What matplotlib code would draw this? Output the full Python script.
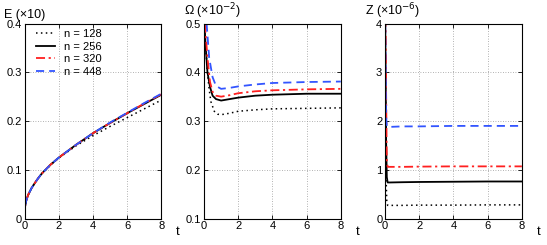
import matplotlib
matplotlib.use('Agg')
import matplotlib.pyplot as plt

plt.rcParams['font.family'] = ['Liberation Sans', 'DejaVu Sans']
plt.rcParams['font.size'] = 7.5

labels = ['n = 128', 'n = 256', 'n = 320', 'n = 448']

# energy E (x10)
tE = [0, 0.01, 0.05, 0.1, 0.2, 0.4, 0.6, 0.8, 1, 1.5, 2, 3, 4, 5, 6, 7, 8]
E128 = [0, 0.02, 0.03, 0.037, 0.048, 0.062, 0.073, 0.083, 0.092, 0.109, 0.124, 0.149, 0.170, 0.189, 0.207, 0.225, 0.243]
E256 = [0, 0.02, 0.03, 0.037, 0.048, 0.062, 0.073, 0.083, 0.092, 0.110, 0.125, 0.151, 0.175, 0.196, 0.216, 0.235, 0.254]
E320 = [0, 0.02, 0.03, 0.037, 0.048, 0.062, 0.073, 0.083, 0.092, 0.110, 0.125, 0.151, 0.175, 0.196, 0.216, 0.236, 0.255]
E448 = [0, 0.02, 0.03, 0.037, 0.048, 0.062, 0.073, 0.083, 0.092, 0.110, 0.125, 0.151, 0.175, 0.197, 0.217, 0.237, 0.256]

# enstrophy Omega (x10^-2)
tW128 = [0.03, 0.1, 0.2, 0.3, 0.4, 0.6, 0.8, 1.0, 1.5, 2, 3, 4, 6, 8]
W128 = [0.5, 0.45, 0.40, 0.365, 0.34, 0.32, 0.314, 0.313, 0.316, 0.320, 0.323, 0.325, 0.326, 0.327]
tW256 = [0.02, 0.1, 0.2, 0.35, 0.5, 0.7, 1.0, 1.5, 2, 3, 4, 6, 8]
W256 = [0.5, 0.45, 0.40, 0.37, 0.352, 0.345, 0.342, 0.345, 0.348, 0.352, 0.354, 0.356, 0.356]
tW320 = [0.05, 0.2, 0.35, 0.5, 0.7, 1.0, 1.5, 2, 3, 4, 6, 8]
W320 = [0.5, 0.43, 0.38, 0.36, 0.352, 0.350, 0.353, 0.357, 0.361, 0.363, 0.365, 0.366]
tW448 = [0.15, 0.3, 0.5, 0.7, 1.0, 1.5, 2, 3, 4, 6, 8]
W448 = [0.5, 0.43, 0.39, 0.372, 0.366, 0.368, 0.371, 0.375, 0.378, 0.380, 0.381]

# Z (x10^-6)
tZ = [0, 0.03, 0.06, 0.1, 0.15, 0.3, 1, 2, 4, 6, 8]
Z128 = [4.5, 2.0, 0.8, 0.35, 0.27, 0.27, 0.27, 0.275, 0.275, 0.28, 0.28]
Z256 = [4.5, 3.0, 1.6, 0.85, 0.74, 0.74, 0.745, 0.75, 0.755, 0.76, 0.76]
Z320 = [4.5, 4.0, 2.6, 1.2, 1.06, 1.06, 1.06, 1.065, 1.07, 1.07, 1.07]
Z448 = [4.5, 3.0, 2.1, 1.90, 1.88, 1.88, 1.89, 1.89, 1.90, 1.90, 1.90]

styles = [dict(color='black', ls=(0, (1, 2.2)), lw=1.1),
          dict(color='black', ls='-', lw=1.3),
          dict(color='#ff2020', ls=(0, (5, 2, 1.2, 2)), lw=1.3),
          dict(color='#3355ff', ls=(0, (4.5, 2.8)), lw=1.3)]

fig = plt.figure(figsize=(5.47, 2.45), dpi=100)
lefts = [0.045, 0.373, 0.704]
axes = [fig.add_axes([l, 0.108, 0.25, 0.796]) for l in lefts]

ax = axes[0]
for y, s, lab in zip([E128, E256, E320, E448], styles, labels):
    ax.plot(tE, y, label=lab, **s)
ax.set_ylim(0, 0.4)
ax.set_yticks([0, 0.1, 0.2, 0.3, 0.4])
ax.set_yticklabels(['0', '0.1', '0.2', '0.3', '0.4'])
ax.legend(loc='upper left', bbox_to_anchor=(0.08, 0.97), frameon=False,
          handlelength=1.75, labelspacing=0.22, borderaxespad=0,
          borderpad=0, handletextpad=0.85, fontsize=8)

ax = axes[1]
for tt, y, s in zip([tW128, tW256, tW320, tW448], [W128, W256, W320, W448], styles):
    ax.plot(tt, y, **s)
ax.set_ylim(0.1, 0.5)
ax.set_yticks([0.1, 0.2, 0.3, 0.4, 0.5])
ax.set_yticklabels(['0.1', '0.2', '0.3', '0.4', '0.5'])

ax = axes[2]
for y, s in zip([Z128, Z256, Z320, Z448], styles):
    ax.plot(tZ, y, **s)
ax.set_ylim(0, 4)
ax.set_yticks([0, 1, 2, 3, 4])

titles = ['E (\u00d710)', '\u03a9 (\u00d710$^{-2}$)', 'Z (\u00d710$^{-6}$)']
for ax, title in zip(axes, titles):
    ax.set_xlim(0, 8)
    ax.set_xticks([0, 2, 4, 6, 8])
    ax.grid(True, ls=(0, (1, 2)), color='#999999', lw=0.6)
    ax.tick_params(direction='in', top=True, right=True, length=3, width=0.6, pad=2,
                   labelsize=8)
    for sp in ax.spines.values():
        sp.set_linewidth(0.8)
    ax.text(-0.15, 1.015, title, transform=ax.transAxes, ha='left', va='bottom', fontsize=9)
    ax.text(1.12, -0.07, 't', transform=ax.transAxes, ha='center', va='center', fontsize=9.5)

fig.savefig('out.png', dpi=100)
